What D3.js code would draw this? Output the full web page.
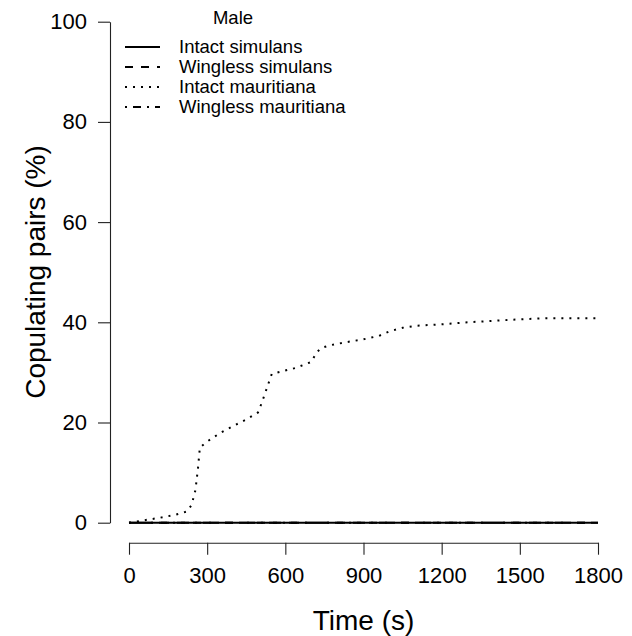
<!DOCTYPE html>
<html>
    <head>
        <title>Copulating pairs - Male</title>
        <script src="https://d3js.org/d3.v7.min.js"></script>
        <style>
            body { margin: 0; background: white; }
            text { font-family: "Liberation Sans", Arial, sans-serif; fill: black; }
        </style>
    </head>
    <body>
        <div id="chart"></div>
        <script>
            // data
            let timeMauritiana = [0, 60, 120, 180, 220, 240, 255, 265, 272, 300, 350, 400, 450, 495,
                                  510, 530, 548, 580, 640, 700, 720, 740, 770, 830, 900, 960, 1000,
                                  1050, 1100, 1200, 1300, 1400, 1500, 1550, 1600, 1800];
            let intactMauritiana = [0, 0.5, 1.0, 1.6, 2.2, 3.5, 6.5, 11, 15, 16.2, 17.9, 19.3, 20.6, 22,
                                    24, 27, 29.7, 30.1, 30.9, 32.1, 34, 34.9, 35.4, 36, 36.6, 37.3, 38.2,
                                    38.9, 39.3, 39.6, 40, 40.3, 40.6, 40.7, 40.8, 40.8];
            let timeFlat = [0, 1800];
            let intactSimulans = [0, 0];
            let winglessSimulans = [0, 0];
            let winglessMauritiana = [0, 0];

            let seriesNames = ["Intact simulans", "Wingless simulans", "Intact mauritiana", "Wingless mauritiana"];
            let xTicks = [0, 300, 600, 900, 1200, 1500, 1800];
            let yTicks = [0, 20, 40, 60, 80, 100];

            let series = [
                {name: seriesNames[0], t: timeFlat, v: intactSimulans, dash: null},
                {name: seriesNames[1], t: timeFlat, v: winglessSimulans, dash: "8,8"},
                {name: seriesNames[2], t: timeMauritiana, v: intactMauritiana, dash: "2,6"},
                {name: seriesNames[3], t: timeFlat, v: winglessMauritiana, dash: "2,6,8,6"}
            ];

            let width = 632, height = 636;
            let svg = d3.select("#chart").append("svg")
                        .attr("width", width).attr("height", height);

            let x = d3.scaleLinear().domain([0, 1800]).range([129, 598]);
            let y = d3.scaleLinear().domain([0, 100]).range([522.7, 21.7]);

            // axes, R style: detached from the plot region
            let xAxis = svg.append("g")
                .attr("transform", "translate(0,542.7)")
                .call(d3.axisBottom(x).tickValues(xTicks).tickFormat(d3.format("d"))
                        .tickSizeInner(12).tickSizeOuter(0).tickPadding(13));
            let yAxis = svg.append("g")
                .attr("transform", "translate(110,0)")
                .call(d3.axisLeft(y).tickValues(yTicks).tickSizeInner(12).tickSizeOuter(0).tickPadding(11));

            [xAxis, yAxis].forEach(function(a) {
                a.selectAll("path, line").attr("stroke", "#222").attr("stroke-width", 1.1);
                a.selectAll("text").style("font-size", "22px")
                 .style("font-family", "'Liberation Sans', Arial, sans-serif").attr("fill", "black");
            });

            svg.append("text")
                .attr("x", 363.5).attr("y", 630)
                .attr("text-anchor", "middle")
                .style("font-size", "28px")
                .text("Time (s)");

            svg.append("text")
                .attr("transform", "translate(45,272) rotate(-90)")
                .attr("text-anchor", "middle")
                .style("font-size", "28px")
                .text("Copulating pairs (%)");

            // lines
            let line = d3.line()
                .x(function(d) { return x(d[0]); })
                .y(function(d) { return y(d[1]); });

            series.forEach(function(s) {
                let pts = s.t.map(function(t, i) { return [t, s.v[i]]; });
                svg.append("path")
                    .datum(pts)
                    .attr("d", line)
                    .attr("fill", "none")
                    .attr("stroke", "black")
                    .attr("stroke-width", 2)
                    .attr("stroke-dasharray", s.dash);
            });

            // legend
            let legend = svg.append("g").attr("transform", "translate(125,47)");
            legend.append("text")
                .attr("x", 108).attr("y", -29)
                .attr("dy", "0.35em")
                .attr("text-anchor", "middle")
                .style("font-size", "18.5px")
                .text("Male");

            series.forEach(function(s, i) {
                legend.append("line")
                    .attr("x1", 0).attr("x2", 35)
                    .attr("y1", i * 20).attr("y2", i * 20)
                    .attr("stroke", "black").attr("stroke-width", 2)
                    .attr("stroke-dasharray", s.dash);
                legend.append("text")
                    .attr("x", 54).attr("y", i * 20)
                    .attr("dy", "0.35em")
                    .style("font-size", "18.5px")
                    .text(s.name);
            });
        </script>
    </body>
</html>
